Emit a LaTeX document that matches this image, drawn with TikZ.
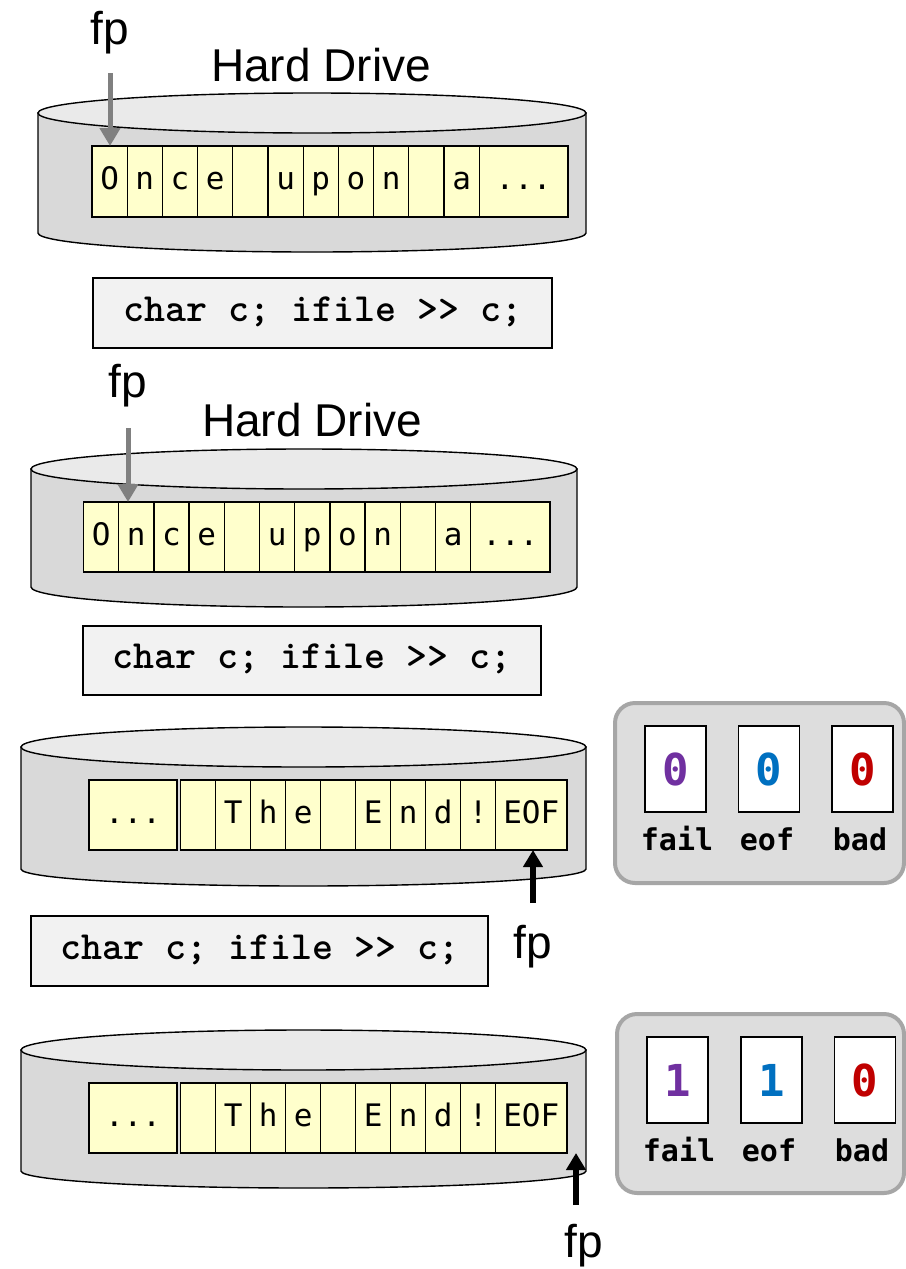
\documentclass[tikz,border=0pt]{standalone}
\usepackage{fontspec}
\setmainfont{Liberation Sans}
\newfontfamily\cellfont{DejaVu Sans Mono}
\usetikzlibrary{arrows.meta}
\definecolor{cylside}{HTML}{D9D9D9}
\definecolor{cyltopc}{HTML}{EAEAEA}
\definecolor{cellyellow}{HTML}{FFFFCC}
\definecolor{codefill}{HTML}{F2F2F2}
\definecolor{flagfill}{HTML}{DDDDDD}
\definecolor{flagborder}{HTML}{A6A6A6}
\definecolor{arrowgray}{HTML}{808080}
\definecolor{failc}{HTML}{7030A0}
\definecolor{eofc}{HTML}{0070C0}
\definecolor{badc}{HTML}{C00000}
\newcommand\hdcyl[6]{%
  \path[cylbody] ({#1-#2},-#3) -- ({#1-#2},-#4) arc[start angle=180,end angle=360,x radius=#2,y radius=#6] -- ({#1+#2},-#3) -- cycle;
  \path[cyltopstyle] (#1,-#3) ellipse[x radius=#2,y radius=#5];}
\begin{document}
\begin{tikzpicture}[x=1pt,y=1pt,
  cylbody/.style={fill=cylside,draw=black,line width=1.4pt},
  cyltopstyle/.style={fill=cyltopc,draw=black,line width=1.4pt},
  cell/.style={draw=black,line width=1.3pt,fill=cellyellow,anchor=north west,inner sep=0pt,outer sep=0pt,
    minimum width=35.2pt,minimum height=70pt,text height=21pt,text depth=5pt,
    font=\cellfont\fontsize{31}{31}\selectfont},
  codebox/.style={draw=black,line width=1.3pt,fill=codefill,inner sep=0pt,outer sep=0pt,
    text height=23pt,text depth=7pt,font=\ttfamily\bfseries\fontsize{40}{40}\selectfont},
  label/.style={anchor=base,inner sep=0pt,font=\fontsize{46}{46}\selectfont},
  flagbox/.style={draw=flagborder,line width=4pt,fill=flagfill,rounded corners=20pt,inner sep=0pt},
  flagcell/.style={draw=black,line width=1.3pt,fill=white,inner sep=0pt,minimum width=61pt,minimum height=86pt,
    font=\cellfont\bfseries\fontsize{44}{44}\selectfont},
  flaglabel/.style={anchor=base,inner sep=0pt,font=\cellfont\bfseries\fontsize{30}{30}\selectfont},
  grayarrow/.style={draw=arrowgray,line width=5pt,-{Triangle[width=20pt,length=18pt]}},
  blackarrow/.style={draw=black,line width=5.5pt,-{Triangle[width=19pt,length=17pt]}}]
\useasboundingbox (0,0) rectangle (905,-1269);
\fill[white] (0,0) rectangle (905,-1269);

% ---------- panel 1 ----------
\node[label] (fp1) at (110,-44) {fp};
\node[label] (hd1) at (321,-81) {Hard Drive};
\hdcyl{312}{274}{113}{233}{20}{19}
\foreach \ch [count=\i from 0] in {O,n,c,e,{},u,p,o,n,{},a}
  \node[cell,minimum height=71pt] (r1c\i) at ({92+35.2*\i},-146) {\ch};
\node[cell,minimum height=71pt,minimum width=88.8pt] (r1c11) at (479.2,-146) {...};
\coordinate (fp1s) at (110,-73);
\draw[grayarrow] (fp1s) -- (fp1s |- r1c0.north);

\node[codebox,minimum width=459pt,minimum height=70pt] (code1) at (322.5,-313) {char c; ifile >> c;};

% ---------- panel 2 ----------
\node[label] (fp2) at (128,-397) {fp};
\node[label] (hd2) at (312,-436) {Hard Drive};
\hdcyl{304}{273}{469}{587}{20}{20}
\foreach \ch [count=\i from 0] in {O,n,c,e,{},u,p,o,n,{},a}
  \node[cell] (r2c\i) at ({83.5+35.2*\i},-502) {\ch};
\node[cell,minimum width=79.3pt] (r2c11) at (470.7,-502) {...};
\coordinate (fp2s) at (128,-428);
\draw[grayarrow] (fp2s) -- (fp2s |- r2c1.north);

\node[codebox,minimum width=458pt,minimum height=69pt] (code2) at (312,-660.5) {char c; ifile >> c;};

% ---------- panel 3 ----------
\hdcyl{303.5}{282.5}{747}{869}{20}{17}
\node[cell,minimum width=88pt] (r3dots) at (89,-780) {...};
\foreach \ch [count=\i from 0] in {{},T,h,e,{},E,n,d,!}
  \node[cell,minimum width=35pt] (r3c\i) at ({180.6+35*\i},-780) {\ch};
\node[cell,minimum width=71.4pt] (r3eof) at (495.6,-780) {EOF};
\coordinate (fp3s) at (533,-903);
\draw[blackarrow] (fp3s) -- (fp3s |- r3eof.south);
\node[label] (fp3) at (533,-958) {fp};

\node[flagbox,minimum width=289pt,minimum height=180pt] (flags1) at (759.5,-793) {};
\node[flagcell,text=failc] (f1fail) at (675.5,-769) {0};
\node[flagcell,text=eofc] (f1eof) at (769,-769) {0};
\node[flagcell,text=badc] (f1bad) at (862.5,-769) {0};
\node[flaglabel] (l1fail) at (677,-850) {fail};
\node[flaglabel] (l1eof) at (767,-850) {eof};
\node[flaglabel] (l1bad) at (860,-850) {bad};

\node[codebox,minimum width=457pt,minimum height=70pt] (code3) at (259.5,-951) {char c; ifile >> c;};

% ---------- panel 4 ----------
\hdcyl{303.5}{282.5}{1050}{1171}{20}{17}
\node[cell,minimum width=88pt] (r4dots) at (89,-1083) {...};
\foreach \ch [count=\i from 0] in {{},T,h,e,{},E,n,d,!}
  \node[cell,minimum width=35pt] (r4c\i) at ({180.6+35*\i},-1083) {\ch};
\node[cell,minimum width=71.4pt] (r4eof) at (495.6,-1083) {EOF};
\coordinate (fp4s) at (576,-1205);
\draw[blackarrow] (fp4s) -- (fp4s |- r4eof.south);
\node[label] (fp4) at (584,-1257) {fp};

\node[flagbox,minimum width=287pt,minimum height=179pt] (flags2) at (760.5,-1103.5) {};
\node[flagcell,text=failc] (f2fail) at (677.5,-1080) {1};
\node[flagcell,text=eofc] (f2eof) at (771.5,-1080) {1};
\node[flagcell,text=badc] (f2bad) at (865,-1080) {0};
\node[flaglabel] (l2fail) at (679,-1161) {fail};
\node[flaglabel] (l2eof) at (769,-1161) {eof};
\node[flaglabel] (l2bad) at (862,-1161) {bad};
\end{tikzpicture}
\end{document}
